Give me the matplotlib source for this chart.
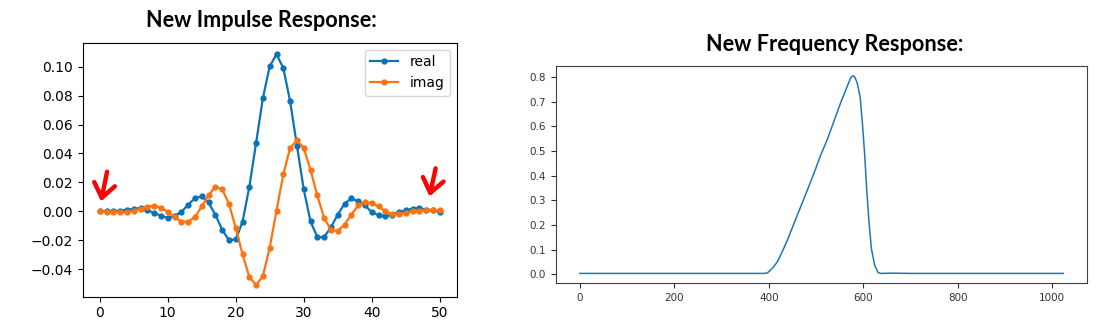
import numpy as np
import matplotlib
matplotlib.use("Agg")
import matplotlib.pyplot as plt

# impulse response taps
taps = list(range(51))
real = [0, 0, 0, 0.0005, 0.0011, 0.0016, 0.0023, 0.0007, -0.0011, -0.003,
        -0.0045, -0.003, -0.0005, 0.0046, 0.0091, 0.0103, 0.0062, -0.0023, -0.0126, -0.0199,
        -0.0194, -0.0072, 0.0169, 0.0475, 0.0784, 0.1003, 0.1086, 0.099, 0.0761, 0.0455,
        0.0153, -0.0069, -0.0178, -0.0178, -0.011, -0.0023, 0.0053, 0.0089, 0.0069, 0.0041,
        -0.0005, -0.0027, -0.0034, -0.0023, -0.0005, 0.0007, 0.0018, 0.0023, 0.0011, 0.0007,
        -0.0005]
imag = [0, -0.0002, -0.0002, -0.0007, -0.0005, 0.0005, 0.0018, 0.0032, 0.0039, 0.0025,
        -0.0002, -0.0039, -0.0071, -0.0071, -0.0039, 0.0034, 0.011, 0.0171, 0.0153, 0.0053,
        -0.0114, -0.0297, -0.0453, -0.051, -0.0446, -0.0251, 0.0005, 0.0256, 0.0439, 0.0491,
        0.0439, 0.0286, 0.011, -0.0046, -0.0126, -0.0137, -0.0091, -0.0023, 0.0041, 0.0064,
        0.0057, 0.0034, 0, -0.0016, -0.0016, -0.0011, 0, 0.0005, 0.0011, 0.0011,
        0.0007]

# frequency response magnitude, sampled along the curve
freq_bin = [0, 100, 200, 300, 390, 397, 407, 418, 428, 439, 453, 467, 481, 495, 509,
            524, 538, 552, 566, 573, 576, 579, 582, 587, 593, 598, 603, 607, 612, 617,
            624, 631, 636, 660, 700, 800, 900, 1023]
freq_mag = [0.003, 0.003, 0.003, 0.003, 0.003, 0.005, 0.023, 0.05, 0.09, 0.137, 0.205,
            0.272, 0.339, 0.407, 0.48, 0.548, 0.622, 0.696, 0.763, 0.796, 0.803, 0.805,
            0.800, 0.776, 0.722, 0.614, 0.48, 0.346, 0.211, 0.104, 0.036, 0.007, 0.003,
            0.004, 0.003, 0.003, 0.003, 0.003]

# red arrows marking the ends of the filter (tail -> tip)
arrow_tails = [(1.08, 0.0274), (49.4, 0.0297)]
arrow_tips = [(0.2, 0.0069), (48.5, 0.0103)]

fig = plt.figure(figsize=(11, 3.23), dpi=100)

# Left: impulse response
ax1 = fig.add_axes([0.0752, 0.0814, 0.34, 0.7864])
ax1.plot(taps, real, '-o', color='#0a72b8', lw=1.6, ms=3.5, label='real')
ax1.plot(taps, imag, '-o', color='#ff7210', lw=1.6, ms=3.5, label='imag')
ax1.legend(loc='upper right', fontsize=10)
ax1.tick_params(labelsize=10)
for tail, tip in zip(arrow_tails, arrow_tips):
    ax1.annotate('', xy=tip, xytext=tail,
                 arrowprops=dict(arrowstyle='->,head_length=0.5,head_width=0.38',
                                 color='red', lw=3.2, mutation_scale=20,
                                 shrinkA=0, shrinkB=0))

# Right: frequency response
ax2 = fig.add_axes([0.5052, 0.1229, 0.4833, 0.6728])
ax2.plot(freq_bin, freq_mag, color='#1f77b4', lw=1.1)
ax2.tick_params(labelsize=7.5, colors='0.2')
for sp in ax2.spines.values():
    sp.set_color('0.25')

title_font = ['Lato', 'DejaVu Sans']
fig.text(261.5 / 1100, 1 - 27.3 / 323, 'New Impulse Response:', ha='center', va='baseline',
         fontsize=15.6, fontweight='bold', family=title_font)
fig.text(834.6 / 1100, 1 - 51.4 / 323, 'New Frequency Response:', ha='center', va='baseline',
         fontsize=15.6, fontweight='bold', family=title_font)

fig.savefig('out.png', dpi=100)
